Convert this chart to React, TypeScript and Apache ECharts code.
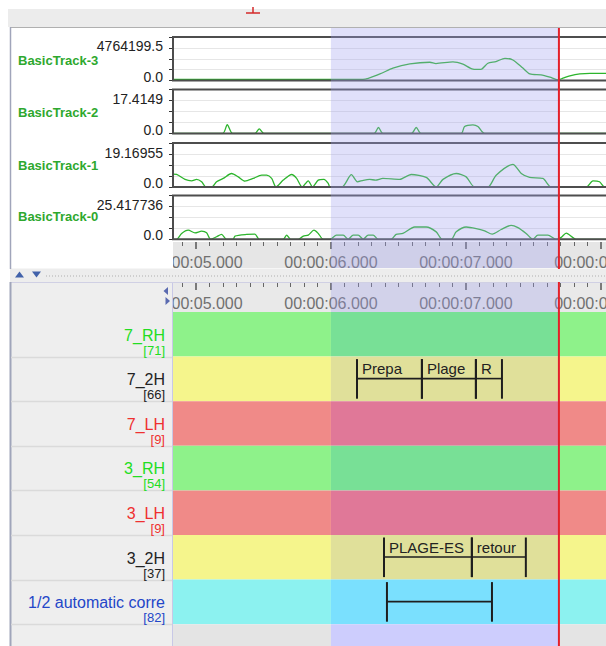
import React, { useEffect, useRef } from "react";
import * as echarts from "echarts";

// ---------- data ----------
const VIEW_START = 4.83; // visible time window (s)
const VIEW_END = 8.06;
const SEL_START = 6.0; // selection
const SEL_END = 7.689; // crosshair
const RULER_MIN = 4;
const RULER_MAX = 9;

const TRACK_NAMES = ["BasicTrack-3", "BasicTrack-2", "BasicTrack-1", "BasicTrack-0"];
const TRACK_MAX = [4764199.5, 17.4149, 19.16955, 25.417736];
const TRACK_MAX_LABELS = ["4764199.5", "17.4149", "19.16955", "25.417736"];

const TRACK3: [number, number][] = [
  [4.83, 167000], [6.237, 167000], [6.363, 953000], [6.459, 1810000], [6.585, 2430000],
  [6.733, 2668000], [6.778, 2477000], [6.904, 2716000], [6.978, 2382000], [7.052, 1667000],
  [7.111, 1620000], [7.163, 2525000], [7.222, 2763000], [7.289, 3240000], [7.348, 3001000],
  [7.422, 1810000], [7.474, 953000], [7.556, 810000], [7.622, 476000], [7.681, 95000],
  [7.719, 333000], [7.77, 667000], [7.844, 953000], [7.919, 1048000], [8.06, 1048000],
];
const TRACK2: [number, number][] = [
  [4.83, 0], [5.198, 0], [5.232, 4.63], [5.272, 0], [5.437, 0], [5.469, 2.45], [5.504, 0],
  [6.319, 0], [6.352, 3.16], [6.385, 0], [6.596, 0], [6.632, 3.16], [6.667, 0],
  [6.965, 0], [6.99, 3.7], [7.052, 4.6], [7.089, 3.7], [7.139, 0], [8.06, 0],
];
const TRACK1: [number, number][] = [
  [4.83, 7.44], [4.857, 7.27], [4.919, 4.41], [4.968, 3.6], [5.005, 4.41], [5.042, 3.03],
  [5.074, 0], [5.116, 0], [5.153, 3.03], [5.202, 4.98], [5.264, 7.84], [5.313, 5.89],
  [5.363, 3.43], [5.424, 4.98], [5.487, 6.87], [5.524, 6.87], [5.561, 4.98], [5.593, 0],
  [5.647, 4.0], [5.709, 7.27], [5.746, 4.98], [5.787, 0], [5.832, 3.6], [5.864, 0],
  [5.906, 4.0], [5.948, 4.41], [5.98, 2.12], [5.993, 0], [6.081, 0], [6.152, 7.15],
  [6.196, 3.03], [6.24, 3.9], [6.287, 4.41], [6.33, 4.0], [6.385, 4.98], [6.509, 4.41],
  [6.595, 7.27], [6.706, 5.55], [6.78, 0], [6.83, 4.41], [6.928, 7.84], [7.002, 5.89],
  [7.064, 0], [7.163, 0], [7.224, 6.87], [7.348, 13.16], [7.41, 7.84], [7.472, 5.55],
  [7.57, 4.98], [7.632, 0], [7.891, 0], [7.941, 3.6], [7.99, 3.03], [8.027, 0], [8.06, 0],
];
const TRACK0: [number, number][] = [
  [4.83, 0], [4.857, 0], [4.894, 4.54], [4.943, 7.04], [4.993, 4.99], [5.042, 6.28],
  [5.079, 4.99], [5.109, 0], [5.153, 1.97], [5.19, 3.78], [5.227, 0], [5.276, 0],
  [5.289, 2.5], [5.375, 3.78], [5.437, 4.0], [5.469, 0], [5.647, 0], [5.672, 3.25],
  [5.701, 0], [5.758, 0], [5.795, 2.5], [5.832, 3.25], [5.874, 7.04], [5.906, 4.54],
  [5.943, 0], [5.993, 0], [6.041, 3.25], [6.091, 3.25], [6.128, 0], [6.165, 3.25],
  [6.202, 3.25], [6.239, 0], [6.276, 3.25], [6.313, 3.25], [6.35, 0], [6.446, 0],
  [6.483, 3.78], [6.533, 4.54], [6.62, 9.53], [6.706, 9.53], [6.78, 5.75], [6.824, 0],
  [6.891, 0], [6.928, 5.75], [7.002, 9.53], [7.076, 8.32], [7.139, 6.51], [7.195, 4.0],
  [7.261, 7.57], [7.335, 10.82], [7.385, 9.08], [7.446, 4.54], [7.496, 0], [7.533, 3.25],
  [7.607, 3.25], [7.669, 0], [7.706, 1.51], [7.743, 4.77], [7.817, 0], [8.06, 0],
];
const TRACK_DATA = [TRACK3, TRACK2, TRACK1, TRACK0];

const TIER_NAMES = ["7_RH", "7_2H", "7_LH", "3_RH", "3_LH", "3_2H", "1/2 automatic corre"];
const TIER_COUNTS = ["[71]", "[66]", "[9]", "[54]", "[9]", "[37]", "[82]"];
const TIER_KINDS = ["RH", "2H", "LH", "RH", "LH", "2H", "auto"];

const ANNOTATION_TIERS = [1, 1, 1, 5, 5, 6];
const ANNOTATION_STARTS = [6.193, 6.674, 7.074, 6.393, 7.044, 6.415];
const ANNOTATION_ENDS = [6.674, 7.074, 7.267, 7.044, 7.444, 7.193];
const ANNOTATION_TEXTS = ["Prepa", "Plage", "R", "PLAGE-ES", "retour", ""];

// ---------- styles / layout ----------
const FONT = '"Liberation Sans", Arial, sans-serif';
const KIND_STYLE: Record<string, { base: string; sel: string; text: string }> = {
  RH: { base: "#8ef28a", sel: "#78e096", text: "#22dd22" },
  "2H": { base: "#f5f58c", sel: "#e0e09a", text: "#222222" },
  LH: { base: "#f08a88", sel: "#e07898", text: "#ee3030" },
  auto: { base: "#8cf2f0", sel: "#7ae0fe", text: "#2346c8" },
  empty: { base: "#e4e4e4", sel: "#cdcdfd", text: "#000" },
};

const PLOT_LEFT = 173;
const PLOT_W = 436;
const PPS = PLOT_W / (VIEW_END - VIEW_START);
const RULER_LEFT = PLOT_LEFT - (VIEW_START - RULER_MIN) * PPS;
const RULER_W = (RULER_MAX - RULER_MIN) * PPS;
const TRACK_TOPS = [37, 89.5, 143, 195.5];
const TRACK_BOTTOMS = [80.5, 133.5, 187, 239.3];
const TRACK_NAME_Y = [60, 112, 165, 216.7];
const ROW_TOP = 312;
const ROW_H = 44.6;
const PAGE_H = 646;

const fmtTime = (v: number) => {
  const ms = Math.round(v * 1000);
  const s = Math.floor(ms / 1000);
  const r = ms % 1000;
  return `00:00:${String(s).padStart(2, "0")}.${String(r).padStart(3, "0")}`;
};

function buildOption(): any {
  const grids: any[] = TRACK_TOPS.map((top, i) => ({
    left: PLOT_LEFT,
    width: PLOT_W,
    top,
    height: TRACK_BOTTOMS[i] - top,
    show: true,
    backgroundColor: "transparent",
    borderColor: "#4d4d4d",
    borderWidth: 2,
    z: 3,
    outerBoundsMode: "none",
    containLabel: false,
  }));
  grids.push({ left: RULER_LEFT, width: RULER_W, top: 242, height: 26, show: true, backgroundColor: "#e6e6e6", borderWidth: 0, outerBoundsMode: "none", containLabel: false, z: 0 });
  grids.push({ left: RULER_LEFT, width: RULER_W, top: 283, height: 29, show: true, backgroundColor: "#e9e9e9", borderWidth: 0, outerBoundsMode: "none", containLabel: false, z: 0 });
  grids.push({ left: PLOT_LEFT, width: PLOT_W, top: ROW_TOP, height: PAGE_H - ROW_TOP, outerBoundsMode: "none", containLabel: false });

  const rulerAxis = (gridIndex: number) => ({
    type: "value",
    gridIndex,
    position: "top",
    z: 2,
    min: RULER_MIN,
    max: RULER_MAX,
    interval: 1,
    axisLine: { show: false, onZero: false },
    axisTick: { show: true, inside: true, length: 7, lineStyle: { color: "#555", width: 1.5 } },
    minorTick: { show: true, splitNumber: 10, length: 4, lineStyle: { color: "#666", width: 1 } },
    splitLine: { show: false },
    minorSplitLine: { show: false },
    axisLabel: {
      inside: true,
      margin: 12,
      fontSize: 16,
      color: "#707070",
      fontFamily: FONT,
      hideOverlap: false,
      showMinLabel: true,
      showMaxLabel: true,
      formatter: (v: number) => fmtTime(v),
    },
  });

  const xAxis: any[] = TRACK_TOPS.map((_, i) => ({
    type: "value",
    gridIndex: i,
    min: VIEW_START,
    max: VIEW_END,
    show: false,
  }));
  xAxis.push(rulerAxis(4));
  xAxis.push(rulerAxis(5));
  xAxis.push({ type: "value", gridIndex: 6, min: VIEW_START, max: VIEW_END, show: false });

  const yAxis: any[] = TRACK_MAX.map((M, i) => ({
    type: "value",
    gridIndex: i,
    min: 0,
    max: (M * 4) / 3,
    interval: M / 3,
    axisLine: { show: true, lineStyle: { color: "#000", width: 1 } },
    axisTick: { show: true, length: 4, lineStyle: { color: "#333" } },
    splitLine: { show: true, showMinLine: false, showMaxLine: false, lineStyle: { color: "#e6e6e6" } },
    axisLabel: {
      margin: 10,
      formatter: (v: number) => {
        if (Math.abs(v) < M * 1e-6) return "{z|0.0}";
        if (Math.abs(v - M) < M * 1e-3) return `{m|${TRACK_MAX_LABELS[i]}}`;
        return "";
      },
      rich: {
        z: { fontSize: 14, color: "#222", fontFamily: FONT, padding: [0, 0, 8, 0] },
        m: { fontSize: 14, color: "#222", fontFamily: FONT, padding: [0, 0, 3, 0] },
      },
    },
  }));
  yAxis.push({ type: "value", gridIndex: 4, min: 0, max: 1, show: false });
  yAxis.push({ type: "value", gridIndex: 5, min: 0, max: 1, show: false });
  yAxis.push({ type: "value", gridIndex: 6, min: 0, max: (PAGE_H - ROW_TOP) / ROW_H, inverse: true, show: false });

  const series: any[] = TRACK_DATA.map((data, i) => ({
    type: "line",
    name: TRACK_NAMES[i],
    xAxisIndex: i,
    yAxisIndex: i,
    data,
    symbol: "none",
    showSymbol: false,
    silent: true,
    smooth: 0.25,
    lineStyle: { color: "#2db52d", width: 1.3 },
    z: 2,
  }));

  // tier rows
  const rowIdx = [...TIER_NAMES.map((_, i) => [i]), [TIER_NAMES.length]];
  series.push({
    type: "custom",
    xAxisIndex: 6,
    yAxisIndex: 6,
    clip: false,
    silent: true,
    z: 1,
    encode: { y: 0 },
    data: rowIdx,
    renderItem: (params: any, api: any) => {
      const i = api.value(0);
      const kind = TIER_KINDS[i] || "empty";
      const st = KIND_STYLE[kind];
      const y0 = api.coord([VIEW_START, i])[1];
      const y1 = api.coord([VIEW_START, i + 1])[1];
      const xs = api.coord([VIEW_START, i])[0];
      const xa = api.coord([SEL_START, i])[0];
      const xb = api.coord([SEL_END, i])[0];
      const xe = api.coord([VIEW_END, i])[0];
      return {
        type: "group",
        children: [
          { type: "rect", shape: { x: xs, y: y0, width: xa - xs, height: y1 - y0 }, style: { fill: st.base } },
          { type: "rect", shape: { x: xa, y: y0, width: xb - xa, height: y1 - y0 }, style: { fill: st.sel } },
          { type: "rect", shape: { x: xb, y: y0, width: xe - xb, height: y1 - y0 }, style: { fill: st.base } },
        ],
      };
    },
  });

  // annotations
  series.push({
    type: "custom",
    xAxisIndex: 6,
    yAxisIndex: 6,
    clip: false,
    silent: true,
    z: 3,
    encode: { x: [0, 1], y: 2 },
    data: ANNOTATION_STARTS.map((s, k) => [s, ANNOTATION_ENDS[k], ANNOTATION_TIERS[k]]),
    renderItem: (params: any, api: any) => {
      const s = api.value(0);
      const e = api.value(1);
      const tier = api.value(2);
      const [x0, top] = api.coord([s, tier]);
      const [x1, bottom] = api.coord([e, tier + 1]);
      const txt = ANNOTATION_TEXTS[params.dataIndex];
      const ym = top + 22;
      const children: any[] = [
        { type: "line", shape: { x1: x0, y1: top + 2.5, x2: x0, y2: bottom - 2.5 }, style: { stroke: "#1e1e1e", lineWidth: 2 } },
        { type: "line", shape: { x1: x1, y1: top + 2.5, x2: x1, y2: bottom - 2.5 }, style: { stroke: "#1e1e1e", lineWidth: 2 } },
        { type: "line", shape: { x1: x0, y1: ym, x2: x1, y2: ym }, style: { stroke: "#1e1e1e", lineWidth: 1.6 } },
      ];
      if (txt) {
        children.push({
          type: "text",
          x: x0 + 5,
          y: top + 12,
          style: { text: txt, fill: "#222", font: `15px ${FONT}`, align: "left", verticalAlign: "middle" },
        });
      }
      return { type: "group", children };
    },
  });

  // ruler ticks drawn from the ruler axes' data? (provided by axis) -- selection overlay + crosshair
  series.push({
    type: "custom",
    xAxisIndex: 0,
    yAxisIndex: 0,
    clip: false,
    silent: true,
    z: 10,
    encode: { x: [0, 1] },
    data: [[SEL_START, SEL_END]],
    renderItem: (params: any, api: any) => {
      const xa = api.coord([api.value(0), 0])[0];
      const xb = api.coord([api.value(1), 0])[0];
      return {
        type: "group",
        children: [
          { type: "rect", shape: { x: xa, y: 28, width: xb - xa, height: 240 }, style: { fill: "rgba(160,160,240,0.33)" } },
          { type: "rect", shape: { x: xa, y: 283, width: xb - xa, height: 29 }, style: { fill: "rgba(160,160,240,0.3)" } },
          { type: "line", shape: { x1: xb, y1: 28, x2: xb, y2: 269 }, style: { stroke: "#e4202a", lineWidth: 2 } },
          { type: "line", shape: { x1: xb, y1: 282, x2: xb, y2: PAGE_H }, style: { stroke: "#e4202a", lineWidth: 2 } },
        ],
      };
    },
  });

  // ---------- decorations / labels ----------
  const graphic: any[] = [
    { type: "rect", z: 0, shape: { x: 8, y: 9, width: 598, height: 18 }, style: { fill: "#ececec" } },
    { type: "line", z: 1, shape: { x1: 10, y1: 27.5, x2: 606, y2: 27.5 }, style: { stroke: "#b0b0b0", lineWidth: 1 } },
    { type: "line", z: 1, shape: { x1: 246, y1: 13, x2: 260, y2: 13 }, style: { stroke: "#d42a2a", lineWidth: 1.5 } },
    { type: "line", z: 1, shape: { x1: 253, y1: 7, x2: 253, y2: 13 }, style: { stroke: "#d42a2a", lineWidth: 1.5 } },
    { type: "line", z: 6, shape: { x1: 10.5, y1: 27, x2: 10.5, y2: 269 }, style: { stroke: "#a0a5ba", lineWidth: 1.5 } },
    { type: "rect", z: 5, shape: { x: 11.3, y: 242, width: 161.7, height: 27 }, style: { fill: "#ffffff" } },
    // divider
    { type: "rect", z: 5, shape: { x: 10, y: 268.5, width: 596, height: 13.5 }, style: { fill: "#ededed" } },
    { type: "line", z: 6, shape: { x1: 46, y1: 276, x2: 606, y2: 276 }, style: { stroke: "#c4c4c4", lineWidth: 1.5, lineDash: [1, 2] } },
    { type: "polygon", z: 6, shape: { points: [[15, 277.5], [24, 277.5], [19.5, 271.5]] }, style: { fill: "#4262aa" } },
    { type: "polygon", z: 6, shape: { points: [[32, 271.5], [41, 271.5], [36.5, 277.5]] }, style: { fill: "#4262aa" } },
    // bottom label area
    { type: "rect", z: 5, shape: { x: 10, y: 282, width: 162.5, height: PAGE_H - 282 }, style: { fill: "#eeeeee" } },
    { type: "line", z: 6, shape: { x1: 172.5, y1: 282, x2: 172.5, y2: PAGE_H }, style: { stroke: "#c8c8e6", lineWidth: 1 } },
    { type: "line", z: 6, shape: { x1: 10, y1: 282.5, x2: 606, y2: 282.5 }, style: { stroke: "#d0d0e4", lineWidth: 1 } },
    { type: "line", z: 6, shape: { x1: 10.5, y1: 282, x2: 10.5, y2: PAGE_H }, style: { stroke: "#a0a5ba", lineWidth: 2 } },
    { type: "polygon", z: 7, shape: { points: [[168, 287], [168, 295], [163.5, 291]] }, style: { fill: "#5a6ab0" } },
    { type: "polygon", z: 7, shape: { points: [[165.5, 297], [165.5, 305], [170, 301]] }, style: { fill: "#5a6ab0" } },
  ];
  for (let i = 1; i <= TIER_NAMES.length; i++) {
    const y = Math.round(ROW_TOP + ROW_H * i) + 0.5;
    graphic.push({ type: "line", z: 6, shape: { x1: 11, y1: y, x2: 172, y2: y }, style: { stroke: "#dadada", lineWidth: 1.5 } });
  }
  TRACK_NAMES.forEach((name, i) => {
    graphic.push({
      type: "text",
      z: 6,
      x: 18,
      y: TRACK_NAME_Y[i],
      style: { text: name, fill: "#2ea82e", font: `bold 13px ${FONT}`, align: "left", verticalAlign: "middle" },
    });
  });
  TIER_NAMES.forEach((name, i) => {
    const top = ROW_TOP + ROW_H * i;
    const col = KIND_STYLE[TIER_KINDS[i]].text;
    graphic.push({
      type: "text",
      z: 6,
      x: 165,
      y: top + 23,
      style: { text: name, fill: col, font: `16px ${FONT}`, align: "right", verticalAlign: "middle" },
    });
    graphic.push({
      type: "text",
      z: 6,
      x: 165,
      y: top + 38,
      style: { text: TIER_COUNTS[i], fill: col, font: `13px ${FONT}`, align: "right", verticalAlign: "middle" },
    });
  });

  return {
    animation: false,
    backgroundColor: "#ffffff",
    grid: grids,
    xAxis,
    yAxis,
    series,
    graphic,
  };
}

export default function App() {
  const ref = useRef<HTMLDivElement>(null);
  useEffect(() => {
    if (!ref.current) return;
    const chart = echarts.init(ref.current, undefined, { renderer: "svg" });
    chart.setOption(buildOption());
    return () => chart.dispose();
  }, []);
  return (
    <div
      ref={ref}
      style={{ position: "absolute", left: 0, top: 0, width: 606, height: 646, background: "#fff" }}
    />
  );
}
